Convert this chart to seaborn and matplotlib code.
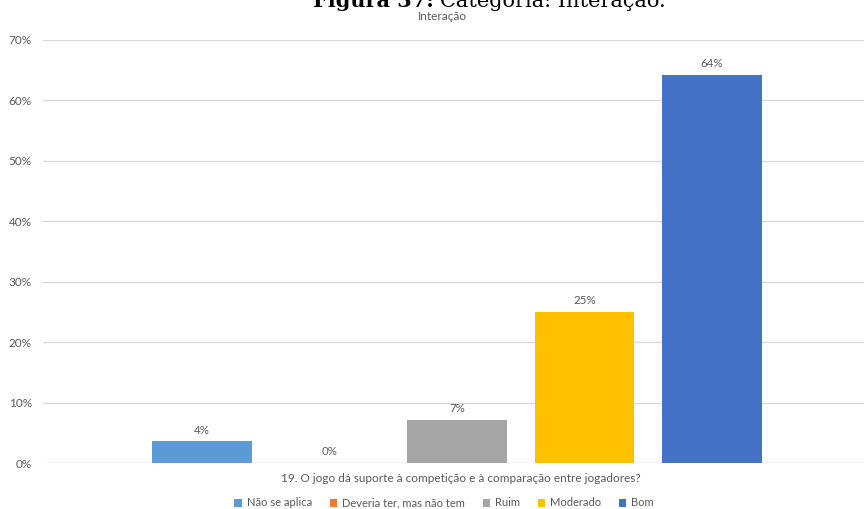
import matplotlib
matplotlib.use("Agg")
import matplotlib.pyplot as plt
import seaborn as sns
import pandas as pd
from matplotlib.ticker import FuncFormatter, MultipleLocator
from matplotlib.patches import Patch

question = "19. O jogo dá suporte à competição e à comparação entre jogadores?"
responses = ["Não se aplica", "Deveria ter, mas não tem", "Ruim", "Moderado", "Bom"]
values = [3.57, 0.0, 7.14, 25.0, 64.29]
colors = ["#5B9BD5", "#ED7D31", "#A5A5A5", "#FFC000", "#4472C4"]
title_bold = "Figura 37:"
title_rest = "Categoria: Interação."
subtitle = "Interação"

sns.set_theme(style="white")
plt.rcParams["font.family"] = ["Lato", "DejaVu Sans"]

df = pd.DataFrame({"q": [question] * len(responses), "resp": responses, "val": values})

fig = plt.figure(figsize=(8.64, 5.09), dpi=100)
ax = fig.add_axes([43 / 864, 46 / 509, 828 / 864, 423 / 509])

sns.barplot(data=df, x="q", y="val", hue="resp", hue_order=responses,
            palette=colors, width=0.8, gap=0.216, ax=ax, legend=False,
            saturation=1, linewidth=0)

ax.set_ylim(0, 70)
ax.set_xlim(-0.5195, 0.5195)
ax.yaxis.set_major_locator(MultipleLocator(10))
ax.yaxis.set_major_formatter(FuncFormatter(lambda v, p: f"{v:.0f}%"))
ax.grid(axis="y", color="#D9D9D9", linewidth=1)
ax.set_axisbelow(True)
for s in ["top", "right", "left", "bottom"]:
    ax.spines[s].set_visible(False)
ax.tick_params(axis="y", length=0, labelsize=8.5, labelcolor="#595959", pad=8)
ax.tick_params(axis="x", length=0)
ax.set_xticklabels([])
ax.set_ylabel("")
ax.set_xlabel("")

for cont in ax.containers:
    ax.bar_label(cont, labels=[f"{v:.0f}%" for v in cont.datavalues],
                 padding=4, fontsize=8.3, color="#595959")

fig.text(461 / 864, 1 - 478 / 509, question, ha="center", va="center",
         fontsize=8.45, color="#595959")

handles = [Patch(facecolor=c, edgecolor="none") for c in colors]
leg = fig.legend(handles, responses, loc="center", bbox_to_anchor=(444 / 864, 1 - 503 / 509),
                 ncol=5, frameon=False, fontsize=8, handlelength=0.7, handleheight=0.7,
                 handletextpad=0.4, columnspacing=1.6)
for t in leg.get_texts():
    t.set_color("#595959")

fig.text(442 / 864, 1 - 20 / 509, subtitle, ha="center", va="baseline",
         fontsize=8.5, color="#595959")

fig.text(434 / 864, 1 - 7 / 509, title_bold, ha="right", va="baseline",
         fontsize=15, fontweight="bold", family=["DejaVu Serif"], color="black")
fig.text(440 / 864, 1 - 7 / 509, title_rest, ha="left", va="baseline",
         fontsize=15, family=["DejaVu Serif"], color="black")

fig.savefig("out.png", dpi=100)
